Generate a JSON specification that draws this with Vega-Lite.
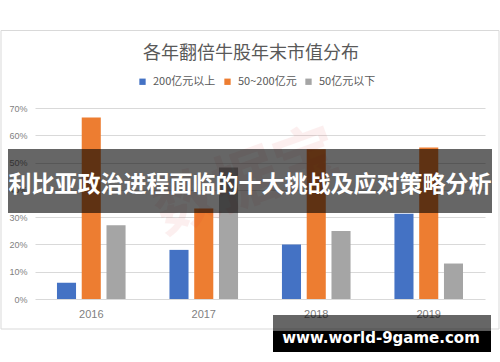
{
  "$schema": "https://vega.github.io/schema/vega-lite/v6.json",
  "width": 450,
  "height": 191,
  "autosize": {"type": "none"},
  "padding": {"left": 35, "top": 108, "right": 15, "bottom": 63},
  "background": "white",
  "title": {
    "text": "各年翻倍牛股年末市值分布",
    "anchor": "middle",
    "offset": -33,
    "dx": -9,
    "fontSize": 18,
    "fontWeight": "normal",
    "color": "#595959",
    "font": "Noto Sans CJK SC"
  },
  "config": {
    "view": {"stroke": null},
    "axis": {"labelFont": "Liberation Sans", "labelColor": "#595959", "ticks": false, "domain": false, "title": null}
  },
  "data": {
    "values": [
      {"year": "2016", "series": "200亿元以上", "share": 0.06},
      {"year": "2016", "series": "50~200亿元", "share": 0.665},
      {"year": "2016", "series": "50亿元以下", "share": 0.27},
      {"year": "2017", "series": "200亿元以上", "share": 0.18},
      {"year": "2017", "series": "50~200亿元", "share": 0.332},
      {"year": "2017", "series": "50亿元以下", "share": 0.482},
      {"year": "2018", "series": "200亿元以上", "share": 0.20},
      {"year": "2018", "series": "50~200亿元", "share": 0.549},
      {"year": "2018", "series": "50亿元以下", "share": 0.249},
      {"year": "2019", "series": "200亿元以上", "share": 0.312},
      {"year": "2019", "series": "50~200亿元", "share": 0.555},
      {"year": "2019", "series": "50亿元以下", "share": 0.13}
    ]
  },
  "layer": [
    {
      "data": {"values": [{}]},
      "mark": {"type": "rect", "fill": null, "stroke": "#d9d9d9", "strokeWidth": 1},
      "encoding": {
        "x": {"value": -34},
        "x2": {"value": 464},
        "y": {"value": -77.5},
        "y2": {"value": 221}
      }
    },
    {
      "mark": {"type": "bar"},
      "encoding": {
        "x": {
          "field": "year",
          "type": "nominal",
          "scale": {"paddingInner": 0.333, "paddingOuter": 0.1667},
          "axis": {"labelAngle": 0, "labelFontSize": 11, "labelPadding": 9, "labelColor": "#7f7f7f"}
        },
        "xOffset": {
          "field": "series",
          "type": "nominal",
          "sort": ["200亿元以上", "50~200亿元", "50亿元以下"],
          "scale": {"paddingInner": 0.23, "paddingOuter": 0.13}
        },
        "y": {
          "field": "share",
          "type": "quantitative",
          "scale": {"domain": [0, 0.7], "nice": false},
          "axis": {
            "values": [0, 0.1, 0.2, 0.3, 0.4, 0.5, 0.6, 0.7],
            "format": ".0%",
            "labelFontSize": 9,
            "labelPadding": 8,
            "labelOverlap": false,
            "labelColor": "#7f7f7f",
            "gridColor": "#d9d9d9",
            "gridWidth": 1
          }
        },
        "color": {
          "field": "series",
          "type": "nominal",
          "sort": ["200亿元以上", "50~200亿元", "50亿元以下"],
          "scale": {"domain": ["200亿元以上", "50~200亿元", "50亿元以下"], "range": ["#4472C4", "#ED7D31", "#A5A5A5"]},
          "legend": {
            "title": null,
            "orient": "none",
            "legendX": 102,
            "legendY": -32,
            "direction": "horizontal",
            "symbolType": "square",
            "symbolSize": 40,
            "symbolStrokeWidth": 0,
            "labelFont": "Noto Sans CJK SC",
            "labelFontSize": 11,
            "labelColor": "#595959",
            "labelOffset": 5,
            "columnPadding": 6
          }
        }
      }
    },
    {
      "data": {"values": [{"mark": "数据宝"}]},
      "mark": {"type": "text", "font": "Noto Sans CJK SC", "fontSize": 64, "fontWeight": "bold", "angle": -20, "fill": "#e03030", "opacity": 0.07},
      "encoding": {
        "text": {"field": "mark"},
        "x": {"value": 212},
        "y": {"value": 75}
      }
    },
    {
      "data": {"values": [{}]},
      "mark": {"type": "rect", "fill": "#000000", "opacity": 0.6},
      "encoding": {
        "x": {"value": -27},
        "x2": {"value": 457},
        "y": {"value": 41},
        "y2": {"value": 105}
      }
    },
    {
      "data": {"values": [{"headline": "利比亚政治进程面临的十大挑战及应对策略分析"}]},
      "mark": {"type": "text", "font": "Noto Sans CJK SC", "fontSize": 23, "fontWeight": "bold", "fill": "white", "align": "center", "baseline": "middle"},
      "encoding": {
        "text": {"field": "headline"},
        "x": {"value": 215},
        "y": {"value": 77}
      }
    },
    {
      "data": {"values": [{}]},
      "mark": {"type": "rect", "fill": "#000000", "opacity": 0.6},
      "encoding": {
        "x": {"value": 238},
        "x2": {"value": 456},
        "y": {"value": 207},
        "y2": {"value": 222.5}
      }
    },
    {
      "data": {"values": [{}]},
      "mark": {"type": "rect", "fill": "#000000"},
      "encoding": {
        "x": {"value": 238},
        "x2": {"value": 456},
        "y": {"value": 222.5},
        "y2": {"value": 244}
      }
    },
    {
      "data": {"values": [{"site": "www.world-9game.com"}]},
      "mark": {"type": "text", "font": "DejaVu Sans", "fontSize": 15, "fontWeight": "bold", "fill": "white", "align": "center", "baseline": "middle"},
      "encoding": {
        "text": {"field": "site"},
        "x": {"value": 346},
        "y": {"value": 229.7}
      }
    }
  ]
}
